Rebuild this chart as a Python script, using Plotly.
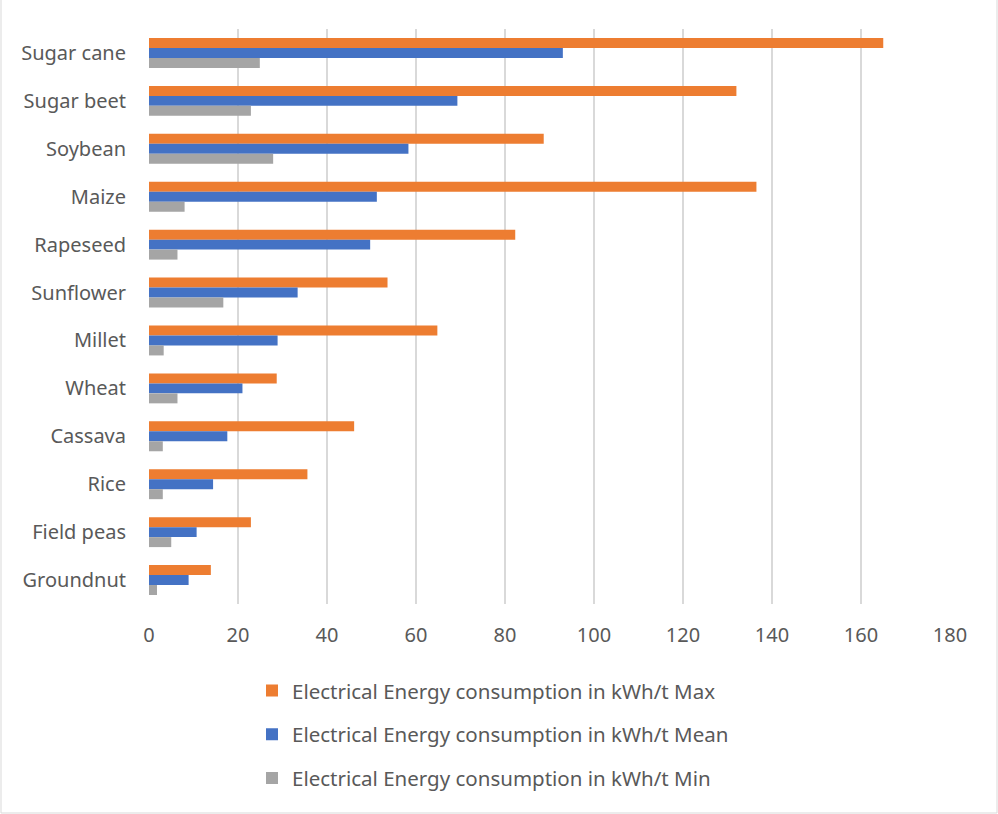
import plotly.graph_objects as go

crops = ["Sugar cane", "Sugar beet", "Soybean", "Maize", "Rapeseed", "Sunflower",
         "Millet", "Wheat", "Cassava", "Rice", "Field peas", "Groundnut"]
energy_max = [165, 132, 88.7, 136.5, 82.3, 53.6, 64.8, 28.7, 46.1, 35.6, 22.9, 13.9]
energy_mean = [93.0, 69.3, 58.3, 51.2, 49.7, 33.4, 28.9, 21.0, 17.6, 14.4, 10.7, 8.9]
energy_min = [24.9, 22.9, 27.9, 8.0, 6.4, 16.7, 3.3, 6.4, 3.1, 3.1, 5.0, 1.8]

series = [
    ("Electrical Energy consumption in kWh/t Max", energy_max, "#ED7D31"),
    ("Electrical Energy consumption in kWh/t Mean", energy_mean, "#4472C4"),
    ("Electrical Energy consumption in kWh/t Min", energy_min, "#A5A5A5"),
]

FONT = "Noto Sans"
TEXT = "#595959"

fig = go.Figure()
for i, (name, vals, color) in enumerate(series):
    fig.add_trace(go.Bar(
        y=crops, x=vals, name=name, orientation="h",
        marker=dict(color=color, line=dict(width=0)),
        legendgroup=f"g{i}",
    ))

W, H = 998, 814
ml, mr, mt, mb = 149, 48, 29, 210
pw, ph = W - ml - mr, H - mt - mb

fig.update_layout(
    width=W, height=H,
    margin=dict(l=ml, r=mr, t=mt, b=mb, pad=0),
    paper_bgcolor="white", plot_bgcolor="white",
    barmode="group", bargap=0.375, bargroupgap=0,
    font=dict(family=FONT, size=20, color=TEXT),
    xaxis=dict(range=[0, 180], dtick=20, tick0=0, showgrid=True,
               gridcolor="#D9D9D9", gridwidth=1.5, zeroline=False,
               showline=False, ticks="", ticklabelstandoff=17,
               tickfont=dict(family=FONT, size=20, color=TEXT)),
    yaxis=dict(autorange="reversed", showgrid=False, ticks="",
               ticklabelstandoff=22, showline=False,
               tickfont=dict(family=FONT, size=20, color=TEXT)),
    legend=dict(orientation="v", x=(252 - ml) / pw, xanchor="left",
                y=-0.13 + 8 / ph, yanchor="top", traceorder="grouped",
                tracegroupgap=14, font=dict(family=FONT, size=20.5, color=TEXT),
                bgcolor="rgba(0,0,0,0)"),
    showlegend=True,
)

# chart border around the full canvas
fig.add_shape(type="rect", xref="paper", yref="paper",
              x0=-(ml - 1) / pw, x1=(W - ml - 1) / pw,
              y0=-(mb - 1) / ph, y1=(H - mt - 1) / ph,
              line=dict(color="#D9D9D9", width=1), layer="below")

fig.write_html("out.html")
